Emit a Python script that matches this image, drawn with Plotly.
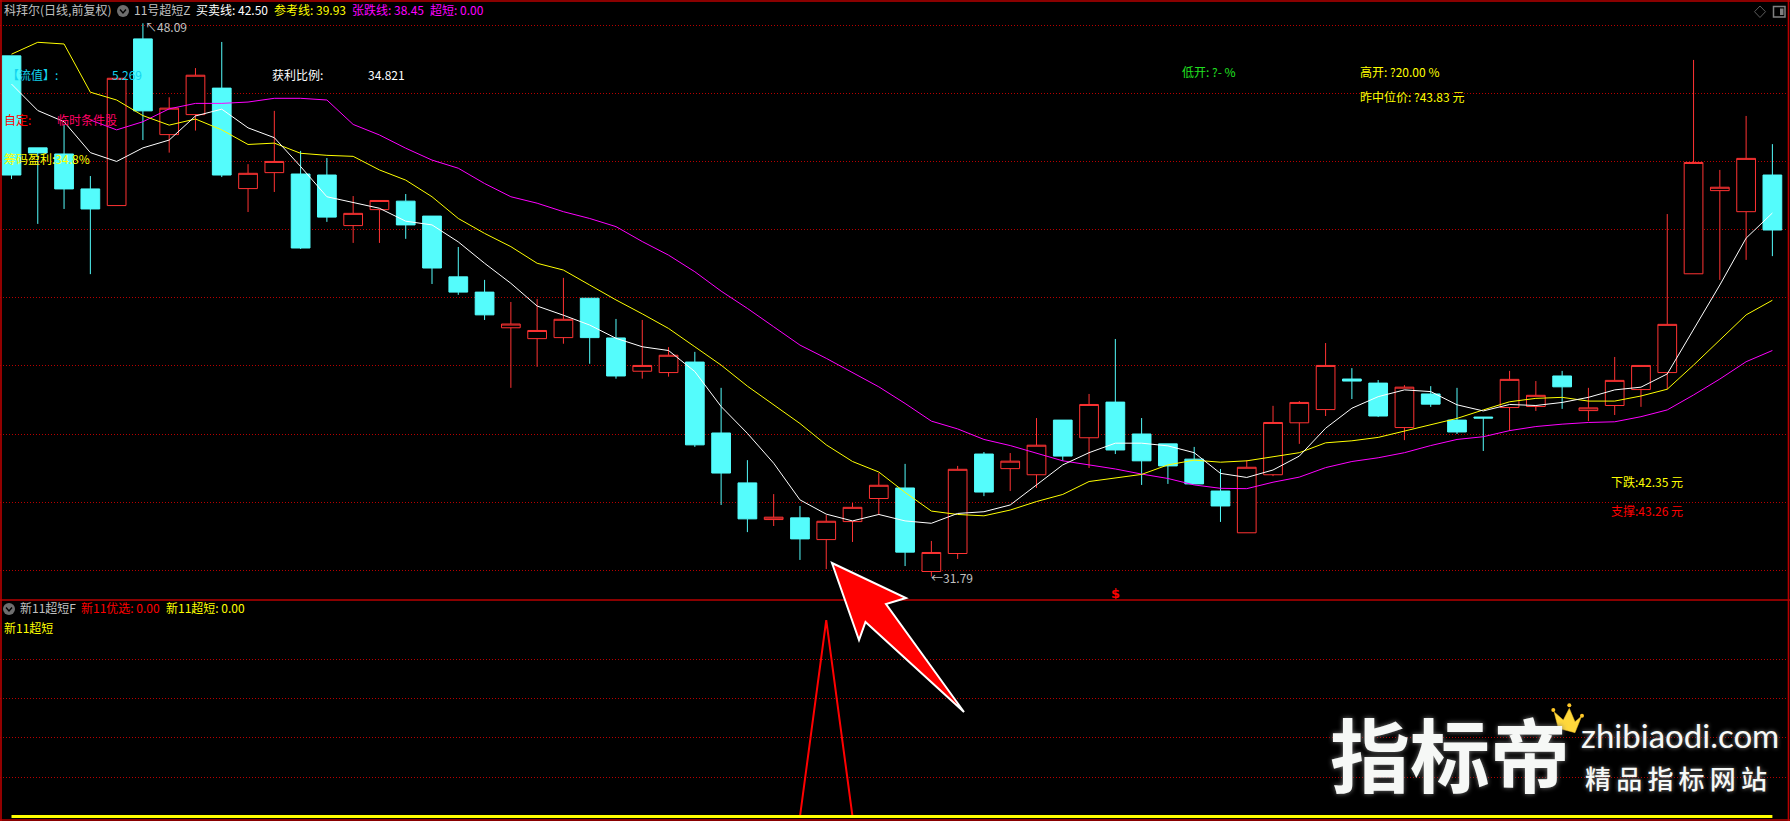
import plotly.graph_objects as go

W, H = 1790, 821

# ---------- candles (prices) ----------
open_ = [47.13,44.42,44.24,43.21,42.72,47.63,44.81,45.40,46.18,43.22,43.69,43.65,43.62,42.13,42.60,42.85,42.41,40.62,40.17,39.12,38.80,38.83,39.99,38.82,37.84,37.80,38.11,36.02,34.55,33.47,33.52,32.88,33.41,34.09,34.40,31.94,32.47,35.40,34.97,34.79,36.40,35.88,36.93,35.99,35.70,35.25,34.31,33.08,34.79,36.32,36.71,37.61,37.49,36.18,37.17,36.40,36.49,36.77,36.80,37.70,36.68,36.83,37.30,37.80,40.71,43.16,42.54,43.62]
high  = [47.13,44.42,45.09,43.59,46.47,48.09,45.91,46.77,47.54,43.94,45.51,44.33,44.12,43.00,42.87,43.06,42.41,41.50,40.53,39.88,39.97,40.59,39.99,39.38,39.35,38.55,38.41,37.35,35.22,34.22,33.87,33.60,33.96,34.84,35.11,32.84,35.05,35.46,35.43,36.46,36.40,37.17,38.79,36.46,35.70,35.61,34.96,35.22,36.82,36.96,38.67,37.93,37.58,37.43,37.40,37.35,36.49,37.85,37.55,37.85,37.35,38.26,38.01,42.47,47.01,43.77,45.36,44.53]
low   = [43.50,42.18,42.62,40.70,42.72,44.65,44.28,44.93,43.56,42.53,43.12,41.44,42.24,41.62,41.62,41.74,40.41,40.09,39.35,37.35,37.97,38.65,38.06,37.62,37.62,37.68,35.61,33.90,33.10,33.28,32.28,32.01,32.81,33.60,32.10,31.79,32.31,34.16,34.31,34.40,35.20,34.99,35.40,34.49,34.52,34.52,33.40,33.08,34.75,35.70,36.52,37.02,36.49,35.81,36.79,35.99,35.49,36.08,36.67,36.73,36.37,36.55,36.79,37.31,40.71,40.53,41.12,41.23]
close = [43.62,44.27,43.21,42.62,46.47,45.51,45.59,46.56,43.62,43.67,44.02,41.47,42.38,42.49,42.87,42.15,40.88,40.17,39.50,39.23,39.04,39.37,38.83,37.70,38.01,38.31,35.67,34.84,33.49,33.54,32.90,33.42,33.83,34.48,32.51,32.50,34.95,34.28,35.19,35.66,35.34,36.86,35.52,35.20,35.05,34.52,33.87,35.01,36.33,36.92,38.01,37.55,36.52,37.37,36.87,36.05,36.46,37.60,37.13,37.38,36.76,37.57,38.01,39.22,43.99,43.26,44.11,42.00]

# ---------- indicator lines ----------
buy_sell_line = [46.30,45.52,45.19,44.28,44.02,44.42,44.65,45.36,45.56,45.01,44.72,43.87,42.98,42.82,42.64,42.26,42.15,41.65,41.02,40.43,39.76,39.49,39.20,38.81,38.56,38.45,37.83,36.80,36.01,35.13,34.05,33.63,33.43,33.62,33.43,33.36,33.65,33.70,33.90,34.49,35.08,35.44,35.72,35.72,35.64,35.44,34.83,34.71,34.93,35.34,36.16,36.75,37.09,37.29,37.24,36.85,36.67,36.86,36.83,36.92,37.07,37.29,37.37,37.76,39.05,40.38,41.76,42.50]
reference_line = [47.18,47.53,47.48,46.06,45.83,45.37,45.09,45.27,44.95,44.52,44.56,44.26,44.20,44.17,43.77,43.47,42.98,42.34,41.90,41.51,41.02,40.82,40.38,39.94,39.53,39.10,38.56,38.02,37.40,36.85,36.30,35.67,35.18,34.87,34.27,33.72,33.62,33.58,33.75,34.00,34.21,34.59,34.70,34.80,35.08,35.22,35.16,35.20,35.32,35.44,35.73,35.79,35.89,36.08,36.28,36.45,36.70,36.94,37.04,37.07,36.96,36.96,37.11,37.31,38.02,38.76,39.50,39.93]
rise_fall_line = [None,None,None,45.24,44.95,45.19,45.57,45.73,45.73,45.77,45.88,45.88,45.83,45.11,44.80,44.41,44.06,43.82,43.37,42.98,42.79,42.54,42.34,42.10,41.66,41.26,40.77,40.20,39.69,39.15,38.61,38.22,37.80,37.38,36.89,36.37,36.14,35.83,35.65,35.42,35.20,35.08,34.96,34.81,34.68,34.49,34.39,34.38,34.57,34.72,35.00,35.18,35.29,35.44,35.65,35.83,35.91,36.09,36.21,36.28,36.33,36.35,36.50,36.70,37.14,37.61,38.12,38.45]

# ---------- lower panel ----------
pick_index = [30, 31, 32]
pick_values = [0, 100, 0]
short_zero = [0] * 68

grid_prices = [48.03,46.03,44.02,42.02,40.02,38.01,35.98,33.98,31.97]
grid_lower = [20, 40, 60, 80]

idx = list(range(68))

UP, DOWN = "#FF3333", "#54FCFC"
BORDER, GRID = "#B80000", "#B80000"
MAGENTA, YELLOW, GREY = "#FF00FF", "#FFFF00", "#C0C0C0"
CJK = "Noto Sans CJK SC"

def px(x):
    return x / W
def py(y):
    return 1 - y / H
def poly(points):
    return "M " + " L ".join(f"{px(x):.5f},{py(y):.5f}" for x, y in points) + " Z"
def line_path(points):
    return "M " + " L ".join(f"{px(x):.5f},{py(y):.5f}" for x, y in points)

fig = go.Figure()
fig.add_trace(go.Candlestick(
    x=idx, open=open_, high=high, low=low, close=close, xaxis="x", yaxis="y",
    increasing=dict(line=dict(color=UP, width=1), fillcolor="#000000"),
    decreasing=dict(line=dict(color=DOWN, width=1), fillcolor=DOWN),
    whiskerwidth=0, showlegend=False, hoverinfo="skip"))
for vals, col in [(rise_fall_line, MAGENTA), (reference_line, YELLOW), (buy_sell_line, "#FFFFFF")]:
    fig.add_trace(go.Scatter(x=idx, y=vals, mode="lines", xaxis="x", yaxis="y",
                             line=dict(color=col, width=1), showlegend=False, hoverinfo="skip"))
fig.add_trace(go.Scatter(x=pick_index, y=pick_values, mode="lines", xaxis="x2", yaxis="y2",
                         line=dict(color="#FF0000", width=2), showlegend=False, hoverinfo="skip"))
fig.add_trace(go.Scatter(x=idx, y=short_zero, mode="lines", xaxis="x2", yaxis="y2",
                         line=dict(color=YELLOW, width=3), showlegend=False, hoverinfo="skip"))

shapes = []
# frame
for a, b in [((1, 0), (1, H)), ((0, 1), (W, 1)), ((W - 1.5, 0), (W - 1.5, H)),
             ((0, 600), (W, 600)), ((0, 820), (W, 820))]:
    shapes.append(dict(type="path", xref="paper", yref="paper", path=line_path([a, b]),
                       line=dict(color=BORDER, width=1.6)))
# big arrow
arrow = [(832, 563), (906, 598), (886, 604), (964, 712), (865.5, 622), (859, 640)]
shapes.append(dict(type="path", xref="paper", yref="paper", path=poly(arrow),
                   fillcolor="#FF0000", line=dict(color="#FFFFFF", width=2)))
# toolbar icons
for cx, cy in [(123, 11), (9, 609)]:
    shapes.append(dict(type="circle", xref="paper", yref="paper",
                       x0=px(cx - 6), x1=px(cx + 6), y0=py(cy + 6), y1=py(cy - 6),
                       fillcolor="#6E6E6E", line=dict(width=0)))
    shapes.append(dict(type="path", xref="paper", yref="paper",
                       path=line_path([(cx - 3, cy - 1.5), (cx, cy + 2), (cx + 3, cy - 1.5)]),
                       line=dict(color="#000000", width=1.4)))
shapes.append(dict(type="path", xref="paper", yref="paper",
                   path=poly([(1760, 6), (1765.5, 11.7), (1760, 17.5), (1754.5, 11.7)]),
                   line=dict(color="#5A5A5A", width=1)))
shapes.append(dict(type="rect", xref="paper", yref="paper", x0=px(1773.5), x1=px(1785),
                   y0=py(17), y1=py(6.5), line=dict(color="#808080", width=1.5)))
shapes.append(dict(type="rect", xref="paper", yref="paper", x0=px(1780), x1=px(1783.5),
                   y0=py(15), y1=py(8.5), fillcolor="#808080", line=dict(width=0)))
# crown of the watermark
crown = [(1558.3, 728.3), (1575, 732.7), (1581.7, 716), (1575, 721.7), (1569.3, 708.3), (1563.3, 720), (1554, 711.7)]
shapes.append(dict(type="path", xref="paper", yref="paper", path=poly(crown),
                   fillcolor="#FFD83C", line=dict(color="#E8B820", width=0.5)))
for cx, cy in [(1553.3, 710), (1569.3, 705.3), (1582, 715.7)]:
    shapes.append(dict(type="circle", xref="paper", yref="paper",
                       x0=px(cx - 2), x1=px(cx + 2), y0=py(cy + 2), y1=py(cy - 2),
                       fillcolor="#FFC828", line=dict(width=0)))

def label(x, y, text, color, size=12, weight=None, font=CJK, shadow=None, anchor="left"):
    f = dict(family=font, size=size, color=color)
    if weight:
        f["weight"] = weight
    if shadow:
        f["shadow"] = shadow
    return dict(x=px(x), y=py(y), xref="paper", yref="paper", text=text, showarrow=False,
                xanchor=anchor, yanchor="middle", align="left", font=f, borderpad=0)

TEXT_CYAN = "#12D4EE"
annotations = [
    label(3, 9.5, "科拜尔(日线,前复权)", GREY),
    label(133, 9.5, "11号超短Z", GREY),
    label(195, 9.5, "买卖线: 42.50", "#FFFFFF"),
    label(273, 9.5, "参考线: 39.93", YELLOW),
    label(351, 9.5, "张跌线: 38.45", MAGENTA),
    label(429, 9.5, "超短: 0.00", MAGENTA),
    label(144, 26, "↖48.09", GREY),
    label(930, 577, "←31.79", GREY),
    label(6, 74, "【流值】:", TEXT_CYAN),
    label(110.5, 74, "5.269", TEXT_CYAN),
    label(3, 119, "自定:", "#FF0000"),
    label(56, 119, "临时条件股", "#FF0066"),
    label(3, 159, "筹码盈利:34.8%", YELLOW),
    label(271, 74, "获利比例:", "#FFFFFF"),
    label(367, 74, "34.821", "#FFFFFF"),
    label(1180.5, 71, "低开: ?- %", "#20E020"),
    label(1358.7, 71, "高开: ?20.00 %", YELLOW),
    label(1358.7, 96, "昨中位价: ?43.83 元", YELLOW),
    label(1610, 481, "下跌:42.35 元", YELLOW),
    label(1610, 510, "支撑:43.26 元", "#FF0000"),
    label(19, 607.5, "新11超短F", GREY),
    label(80, 607.5, "新11优选: 0.00", "#FF0000"),
    label(165, 607.5, "新11超短: 0.00", YELLOW),
    label(3, 627.5, "新11超短", YELLOW),
    label(1329, 751, "指标帝", "#F6F8F6", size=80, weight=700, shadow="0 0 5px #777777"),
    label(1580, 735, "zhibiaodi.com", "#F6F8F6", size=33, font="Lato", shadow="0 0 4px #777777"),
    label(1584, 777, "精\u2009品\u2009指\u2009标\u2009网\u2009站", "#F6F8F6", size=26, weight=500, shadow="0 0 4px #777777"),
    dict(x=42, y=31.3, xref="x", yref="y", text="$", showarrow=False,
         font=dict(family="DejaVu Sans", size=13, color="#FF0000", weight=700)),
]

split = 1 - 600 / H
fig.update_layout(
    width=W, height=H, margin=dict(l=0, r=0, t=0, b=0),
    paper_bgcolor="#000000", plot_bgcolor="#000000", showlegend=False,
    hovermode=False, boxgap=0.05, boxgroupgap=0.25,
    xaxis=dict(domain=[0, 1], range=[-0.4376, 67.67], visible=False, rangeslider=dict(visible=False), anchor="y"),
    xaxis2=dict(domain=[0, 1], range=[-0.4376, 67.67], visible=False, anchor="y2"),
    yaxis=dict(domain=[split, 1], range=[31.10, 48.776], tickmode="array", tickvals=grid_prices,
               showticklabels=False, ticks="", zeroline=False, showline=False, showgrid=True,
               gridcolor=GRID, gridwidth=1, griddash="1px,2px", anchor="x"),
    yaxis2=dict(domain=[0, split], range=[-2.24, 110.2], tickmode="array", tickvals=grid_lower,
                showticklabels=False, ticks="", zeroline=False, showline=False, showgrid=True,
                gridcolor=GRID, gridwidth=1, griddash="1px,2px", anchor="x2"),
    shapes=shapes, annotations=annotations,
)

fig.write_html("out.html", config=dict(displayModeBar=False),
               post_script="document.body.style.margin='0';document.body.style.background='#000';document.documentElement.style.overflow='hidden';")
